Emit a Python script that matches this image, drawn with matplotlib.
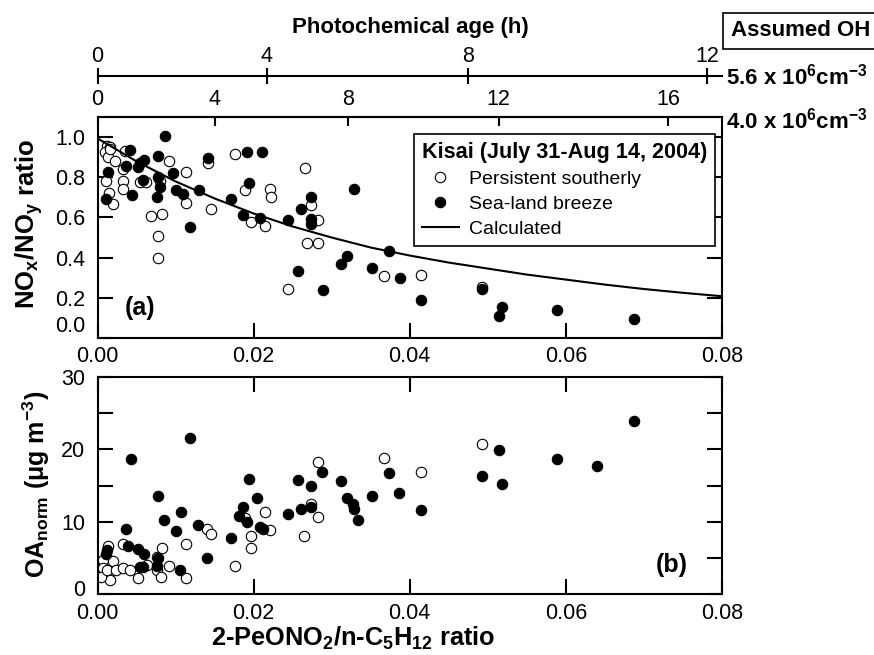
import matplotlib
matplotlib.use('Agg')
import matplotlib.pyplot as plt
from matplotlib.ticker import MultipleLocator, FormatStrFormatter
from matplotlib.transforms import ScaledTranslation

plt.rcParams['font.family'] = ['Liberation Sans', 'DejaVu Sans']
plt.rcParams['mathtext.fontset'] = 'custom'
plt.rcParams['mathtext.rm'] = 'Liberation Sans'
plt.rcParams['mathtext.bf'] = 'Liberation Sans:bold'
plt.rcParams['mathtext.default'] = 'bf'

# panel (a): NOx/NOy vs 2-PeONO2/n-C5H12
a_open_x = [0.0012, 0.0010, 0.0016, 0.0013, 0.0022, 0.0035, 0.0033, 0.0033, 0.0011, 0.0015,
            0.0020, 0.0033, 0.0054, 0.0062, 0.0091, 0.0080, 0.0114, 0.0114, 0.0141, 0.0069,
            0.0083, 0.0077, 0.0078, 0.0146, 0.0176, 0.0189, 0.0196, 0.0221, 0.0222, 0.0266,
            0.0274, 0.0283, 0.0214, 0.0268, 0.0283, 0.0244, 0.0367, 0.0414, 0.0493, 0.0016]
a_open_y = [0.958, 0.925, 0.950, 0.900, 0.883, 0.930, 0.840, 0.780, 0.782, 0.724,
            0.669, 0.740, 0.777, 0.777, 0.883, 0.780, 0.829, 0.670, 0.870, 0.607,
            0.615, 0.510, 0.400, 0.640, 0.916, 0.737, 0.577, 0.740, 0.704, 0.849,
            0.660, 0.587, 0.557, 0.473, 0.473, 0.244, 0.306, 0.314, 0.252, 0.940]
a_fill_x = [0.0086, 0.0041, 0.0037, 0.0013, 0.0011, 0.0044, 0.0058, 0.0052, 0.0054, 0.0060,
            0.0077, 0.0078, 0.0080, 0.0076, 0.0097, 0.0101, 0.0109, 0.0130, 0.0141, 0.0118,
            0.0171, 0.0192, 0.0211, 0.0194, 0.0187, 0.0274, 0.0261, 0.0274, 0.0274, 0.0244,
            0.0208, 0.0328, 0.0319, 0.0312, 0.0257, 0.0289, 0.0373, 0.0352, 0.0387, 0.0414,
            0.0493, 0.0518, 0.0514, 0.0588, 0.0687]
a_fill_y = [1.007, 0.936, 0.858, 0.829, 0.694, 0.711, 0.786, 0.850, 0.874, 0.888,
            0.908, 0.803, 0.754, 0.704, 0.821, 0.735, 0.716, 0.735, 0.895, 0.553,
            0.694, 0.925, 0.928, 0.771, 0.611, 0.704, 0.644, 0.590, 0.565, 0.587,
            0.599, 0.741, 0.406, 0.367, 0.334, 0.239, 0.435, 0.346, 0.298, 0.190,
            0.245, 0.152, 0.109, 0.139, 0.092]
calc_x = [0.0, 0.005, 0.01, 0.015, 0.02, 0.025, 0.03, 0.035, 0.04, 0.045, 0.05,
          0.055, 0.06, 0.065, 0.07, 0.075, 0.08]
calc_y = [0.995, 0.88, 0.78, 0.695, 0.62, 0.555, 0.50, 0.45, 0.41, 0.375, 0.345,
          0.315, 0.29, 0.265, 0.243, 0.224, 0.207]

# panel (b): OA_norm vs 2-PeONO2/n-C5H12
b_open_x = [0.0014, 0.0007, 0.0020, 0.0007, 0.0014, 0.0016, 0.0005, 0.0012, 0.0024, 0.0033,
            0.0033, 0.0041, 0.0052, 0.0063, 0.0076, 0.0076, 0.0083, 0.0091, 0.0081, 0.0113,
            0.0114, 0.0140, 0.0146, 0.0176, 0.0189, 0.0196, 0.0197, 0.0215, 0.0221, 0.0265,
            0.0273, 0.0283, 0.0283, 0.0367, 0.0414, 0.0493]
b_open_y = [6.65, 4.7, 4.6, 3.6, 2.7, 2.0, 2.4, 3.3, 3.3, 7.0,
            3.6, 3.4, 2.2, 4.0, 3.35, 5.1, 6.35, 3.9, 2.4, 6.9,
            2.2, 9.05, 8.3, 3.9, 10.5, 8.0, 6.4, 11.3, 8.9, 8.1,
            12.4, 18.2, 10.6, 18.8, 16.9, 20.7]
b_fill_x = [0.0012, 0.0011, 0.0036, 0.0039, 0.0043, 0.0052, 0.0059, 0.0054, 0.0058, 0.0078,
            0.0076, 0.0077, 0.0085, 0.0100, 0.0107, 0.0106, 0.0118, 0.0129, 0.0140, 0.0171,
            0.0181, 0.0187, 0.0191, 0.0194, 0.0204, 0.0208, 0.0212, 0.0244, 0.0257, 0.0261,
            0.0273, 0.0273, 0.0288, 0.0312, 0.0319, 0.0327, 0.0328, 0.0334, 0.0352, 0.0373,
            0.0386, 0.0414, 0.0493, 0.0514, 0.0518, 0.0588, 0.0640, 0.0687]
b_fill_y = [6.1, 5.6, 9.0, 6.65, 18.7, 6.2, 5.55, 3.7, 3.7, 5.0,
            3.9, 13.6, 10.3, 8.7, 11.4, 3.35, 21.6, 9.6, 5.0, 7.7,
            10.8, 12.0, 10.0, 15.9, 13.3, 9.3, 9.05, 11.1, 15.8, 11.7,
            12.0, 14.9, 16.9, 15.6, 13.3, 12.5, 11.7, 10.2, 13.6, 16.7,
            13.9, 11.6, 16.3, 19.9, 15.2, 18.7, 17.7, 23.9]

# photochemical age ticks (position on ratio axis)
age40_pos = [0.0, 0.01503, 0.03208, 0.05138, 0.07309]
age40_lbl = ['0', '4', '8', '12', '16']
age56_pos = [0.0, 0.02165, 0.04745, 0.07808]
age56_lbl = ['0', '4', '8', '12']

ratio_ticks = [0.0, 0.02, 0.04, 0.06, 0.08]
noxy_ticks = [0.0, 0.2, 0.4, 0.6, 0.8, 1.0]
oa_ticks = [0, 10, 20, 30]

W, H = 874, 655
fig = plt.figure(figsize=(8.74, 6.55), dpi=100)


def box(x0, y0, x1, y1):
    return [x0 / W, 1 - y1 / H, (x1 - x0) / W, (y1 - y0) / H]


ax_a = fig.add_axes(box(97.5, 117.3, 722, 337.7))
ax_b = fig.add_axes(box(97.5, 376.7, 722, 594.3))

for ax in (ax_a, ax_b):
    for s in ax.spines.values():
        s.set_linewidth(1.5)
    ax.tick_params(which='both', direction='in', length=11, width=1.5, labelsize=15.5)
    ax.tick_params(axis='y', pad=9)
    ax.tick_params(axis='x', pad=6)
    ax.set_xlim(0, 0.08)
    ax.set_xticks(ratio_ticks)
    ax.xaxis.set_major_formatter(FormatStrFormatter('%.2f'))

mk = dict(ls='none', marker='o', ms=7.5, mec='black', mew=0.8)

ax_a.plot(a_open_x, a_open_y, mfc='white', label='Persistent southerly', **mk)
ax_a.plot(a_fill_x, a_fill_y, mfc='black', label='Sea-land breeze', **mk)
ax_a.plot(calc_x, calc_y, 'k-', lw=1.5, label='Calculated')
ax_a.set_ylim(0, 1.1)
ax_a.set_yticks(noxy_ticks)
ax_a.yaxis.set_major_formatter(FormatStrFormatter('%.1f'))
ax_a.tick_params(top=False, right=True)

leg = ax_a.legend(loc='upper left', bbox_to_anchor=(0.507, 0.924), borderaxespad=0,
                  title='Kisai (July 31-Aug 14, 2004)',
                  title_fontproperties={'weight': 'bold', 'size': 15.6}, fontsize=14,
                  frameon=True, fancybox=False, edgecolor='black', framealpha=1,
                  borderpad=0.4, labelspacing=0.38, handlelength=1.9, handletextpad=0.5,
                  alignment='left')
leg.get_frame().set_linewidth(1.2)

sec = ax_a.secondary_xaxis('top')
sec.set_xticks(age40_pos, labels=age40_lbl)
sec.tick_params(direction='in', length=6.5, width=1.5, labelsize=15.5, pad=5)
sec.spines['top'].set_linewidth(1.5)

ax_b.plot(b_open_x, b_open_y, mfc='white', **mk)
ax_b.plot(b_fill_x, b_fill_y, mfc='black', **mk)
ax_b.set_ylim(0, 30)
ax_b.set_yticks(oa_ticks)
ax_b.yaxis.set_minor_locator(MultipleLocator(5))
ax_b.tick_params(which='both', top=True, right=True)

# lowest y labels sit a little higher, clear of the x labels
for ax, dy in ((ax_a, 14), (ax_b, 6)):
    lab = ax.yaxis.get_major_ticks()[0].label1
    lab.set_transform(lab.get_transform() + ScaledTranslation(0, dy / 100, fig.dpi_scale_trans))

# upper age axis for OH = 5.6e6
ax56 = fig.add_axes(box(97.5, 76, 722, 76.05))
ax56.patch.set_visible(False)
for k in ('left', 'right', 'bottom'):
    ax56.spines[k].set_visible(False)
ax56.spines['top'].set_linewidth(1.5)
ax56.set_xlim(0, 0.08)
ax56.set_yticks([])
ax56.xaxis.tick_top()
ax56.set_xticks(age56_pos, labels=age56_lbl)
ax56.tick_params(direction='inout', length=11, width=1.5, labelsize=15.5, pad=1)

fig.text(410 / W, 1 - 28 / H, 'Photochemical age (h)', fontsize=16, fontweight='bold',
         ha='center', va='center')
fig.text(731 / W, 1 - 31 / H, 'Assumed OH', fontsize=16, fontweight='bold', ha='left',
         va='center', bbox=dict(boxstyle='square,pad=0.35', fc='white', ec='black', lw=1.2))
fig.text(726 / W, 1 - 85 / H, r'5.6 x 10$^{6}$cm$^{-3}$', fontsize=16, fontweight='bold',
         ha='left', va='baseline')
fig.text(726 / W, 1 - 128 / H, r'4.0 x 10$^{6}$cm$^{-3}$', fontsize=16, fontweight='bold',
         ha='left', va='baseline')

fig.text(29 / W, 1 - 224 / H, r'NO$_{x}$/NO$_{y}$ ratio', rotation=90, fontsize=18.5,
         fontweight='bold', ha='center', va='center')
fig.text(36 / W, 1 - 484 / H, r'OA$_{norm}$ (μg m$^{-3}$)', rotation=90, fontsize=18,
         fontweight='bold', ha='center', va='center')
fig.text(353 / W, 1 - 638 / H, r'2-PeONO$_{2}$/n-C$_{5}$H$_{12}$ ratio', fontsize=18.3,
         fontweight='bold', ha='center', va='center')

fig.text(140 / W, 1 - 308 / H, '(a)', fontsize=18, fontweight='bold', ha='center', va='center')
fig.text(672 / W, 1 - 565 / H, '(b)', fontsize=18, fontweight='bold', ha='center', va='center')

fig.savefig('out.png', dpi=100)
